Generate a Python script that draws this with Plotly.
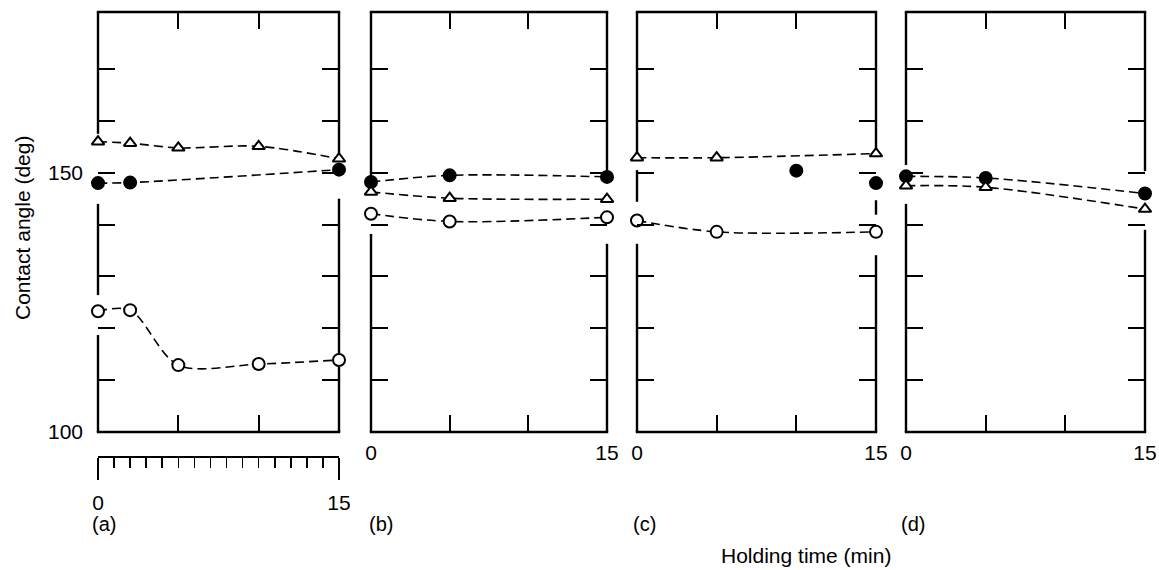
import plotly.graph_objects as go

# ---------------- data ----------------
# panel (a)
a_t_tri = [0, 2, 5, 10, 15]
a_tri = [156.0, 155.7, 154.8, 155.1, 152.7]
a_t_fill = [0, 2, 15]
a_fill = [148.0, 148.1, 150.6]
a_t_open = [0, 2, 5, 10, 15]
a_open = [123.3, 123.5, 112.9, 113.1, 113.9]
# panel (b)
b_t = [0, 5, 15]
b_fill = [148.2, 149.5, 149.2]
b_tri = [146.3, 145.1, 144.9]
b_open = [142.1, 140.6, 141.4]
# panel (c)
c_t = [0, 5, 15]
c_tri = [152.9, 152.9, 153.7]
c_t_fill = [10, 15]
c_fill = [150.4, 148.0]
c_open = [140.8, 138.6, 138.6]
# panel (d)
d_t = [0, 5, 15]
d_fill = [149.3, 149.0, 146.0]
d_tri = [147.5, 147.2, 143.0]

panel_labels = ["(a)", "(b)", "(c)", "(d)"]
y_tickvals = [100, 110, 120, 130, 140, 150, 160, 170]
y_ticktext = ["100", "", "", "", "", "150", "", ""]
x_tickvals = [0, 5, 10, 15]
x_ticktext = ["0", "", "", "15"]
ruler_major = [0, 5, 10, 15]
ruler_text = ["0", "", "", "15"]
Y_MIN, Y_MAX = 100, 181

# breaks in the vertical frame lines (degrees), left / right side of each panel
left_gaps = [[(144.0, 157.5), (118.7, 126.4)], [(138.2, 149.3)],
             [(150.5, 153.6), (136.3, 144.4)], [(144.0, 151.5)]]
right_gaps = [[(145.0, 153.5)], [(136.3, 149.0)],
              [(144.7, 154.4), (134.1, 141.9)], [(139.0, 150.3)]]

W, H = 1159, 570
FONT = "Liberation Sans, Arial, Helvetica, sans-serif"
FS = 21
LW = 2.4

# pixel geometry of the four frames
frames_px = [(98, 339), (371, 607), (637, 876), (906, 1145)]
top_px, bot_px = 12, 432
ruler_px = 455


def px_x(p):
    return p / W


def px_y(p):
    return 1 - p / H


def frac(v):
    """position of an angle value as a fraction of the y-axis domain"""
    return (v - Y_MIN) / (Y_MAX - Y_MIN)


fig = go.Figure()
dash = "9px,5px"


def add_series(i, x, y, symbol, filled, line=True, smooth=0.9):
    xa = "x" if i == 1 else f"x{i}"
    ya = "y" if i == 1 else f"y{i}"
    fig.add_trace(go.Scatter(
        x=x, y=y, xaxis=xa, yaxis=ya,
        mode="lines+markers" if line else "markers",
        line=dict(color="black", width=1.6, dash=dash, shape="spline", smoothing=smooth),
        marker=dict(
            symbol=symbol,
            size=12 if symbol != "triangle-up" else 11,
            color="black" if filled else "white",
            line=dict(color="black", width=2),
        ),
        cliponaxis=False,
        showlegend=False,
        hoverinfo="skip",
    ))


# (a)
add_series(1, a_t_tri, a_tri, "triangle-up", False)
add_series(1, a_t_fill, a_fill, "circle", True)
add_series(1, a_t_open, a_open, "circle", False)
# (b)
add_series(2, b_t, b_fill, "circle", True)
add_series(2, b_t, b_tri, "triangle-up", False)
add_series(2, b_t, b_open, "circle", False)
# (c)
add_series(3, c_t, c_tri, "triangle-up", False)
add_series(3, c_t_fill, c_fill, "circle", True, line=False)
add_series(3, c_t, c_open, "circle", False)
# (d)
add_series(4, d_t, d_fill, "circle", True)
add_series(4, d_t, d_tri, "triangle-up", False)

layout = dict(
    width=W, height=H,
    margin=dict(l=0, r=0, t=0, b=0, autoexpand=False),
    paper_bgcolor="white", plot_bgcolor="rgba(0,0,0,0)",
    font=dict(family=FONT, size=FS, color="black"),
    showlegend=False,
)

shapes = []


def segments(gaps):
    pts = [Y_MIN]
    for lo, hi in sorted(gaps):
        pts += [lo, hi]
    pts.append(Y_MAX)
    return [(pts[k], pts[k + 1]) for k in range(0, len(pts), 2)]


for i, (l, r) in enumerate(frames_px, start=1):
    xk = "xaxis" if i == 1 else f"xaxis{i}"
    yk = "yaxis" if i == 1 else f"yaxis{i}"
    xr = "x" if i == 1 else f"x{i}"
    yr = "y" if i == 1 else f"y{i}"
    layout[xk] = dict(
        domain=[px_x(l), px_x(r)], range=[0, 15],
        anchor=yr,
        showline=False, mirror="ticks",
        ticks="inside", ticklen=17, tickwidth=2, tickcolor="black",
        tickvals=x_tickvals, ticktext=x_ticktext,
        showticklabels=(i != 1), showgrid=False, zeroline=False,
        tickfont=dict(size=FS), ticklabelstandoff=6,
    )
    layout[yk] = dict(
        domain=[px_y(bot_px), px_y(top_px)], range=[Y_MIN, Y_MAX],
        anchor=xr,
        showline=False, mirror="ticks",
        ticks="inside", ticklen=17, tickwidth=2, tickcolor="black",
        tickvals=y_tickvals, ticktext=y_ticktext,
        showticklabels=(i == 1), showgrid=False, zeroline=False,
        tickfont=dict(size=FS), ticklabelstandoff=14,
    )
    xd, yd = xr + " domain", yr + " domain"
    # horizontal frame lines (bottom and top), in paper coordinates
    for ypx in (top_px, bot_px):
        shapes.append(dict(type="line", xref="paper", yref="paper",
                           x0=px_x(l) - 1.2 / W, x1=px_x(r) + 1.2 / W,
                           y0=px_y(ypx), y1=px_y(ypx),
                           layer="above", line=dict(color="black", width=LW)))
    # vertical frame lines with breaks around the markers
    for xv, gaps in ((0, left_gaps[i - 1]), (1, right_gaps[i - 1])):
        for y0, y1 in segments(gaps):
            shapes.append(dict(type="line", xref=xd, yref=yd, x0=xv, x1=xv,
                               y0=frac(y0), y1=frac(y1), layer="below",
                               line=dict(color="black", width=LW)))

layout["shapes"] = shapes

# ruler under panel (a)
fig.add_trace(go.Scatter(x=[0, 15], y=[0, 0], xaxis="x5", yaxis="y5",
                         mode="markers", marker=dict(opacity=0), showlegend=False,
                         hoverinfo="skip"))
layout["xaxis5"] = dict(
    domain=[px_x(frames_px[0][0]), px_x(frames_px[0][1])], range=[0, 15],
    anchor="y5", side="bottom",
    showline=True, linewidth=LW, linecolor="black",
    ticks="outside", ticklen=22, tickwidth=2, tickcolor="black",
    tickvals=ruler_major, ticktext=ruler_text,
    minor=dict(ticks="outside", ticklen=10, tickwidth=1.6, tickcolor="black",
               tickvals=list(range(0, 16))),
    showgrid=False, zeroline=False, tickfont=dict(size=FS), ticklabelstandoff=4,
)
layout["yaxis5"] = dict(
    domain=[px_y(ruler_px + 1), px_y(ruler_px)], range=[-1, 0],
    anchor="x5", visible=False,
)

annotations = []
label_x = [104, 381, 644, 913]
for lx, lab in zip(label_x, panel_labels):
    annotations.append(dict(text=lab, x=px_x(lx), y=px_y(524), xref="paper", yref="paper",
                            showarrow=False, font=dict(size=FS - 1, family=FONT),
                            xanchor="center", yanchor="middle"))
annotations.append(dict(text="Holding time (min)", x=px_x(806), y=px_y(555),
                        xref="paper", yref="paper", showarrow=False,
                        font=dict(size=FS, family=FONT),
                        xanchor="center", yanchor="middle"))
annotations.append(dict(text="Contact angle (deg)", x=px_x(22), y=px_y(228),
                        xref="paper", yref="paper", showarrow=False, textangle=-90,
                        font=dict(size=FS, family=FONT),
                        xanchor="center", yanchor="middle"))
layout["annotations"] = annotations

fig.update_layout(**layout)
fig.write_html("out.html",
               config={"displayModeBar": False, "staticPlot": True},
               post_script="document.body.style.margin='0';document.body.style.padding='0';")
